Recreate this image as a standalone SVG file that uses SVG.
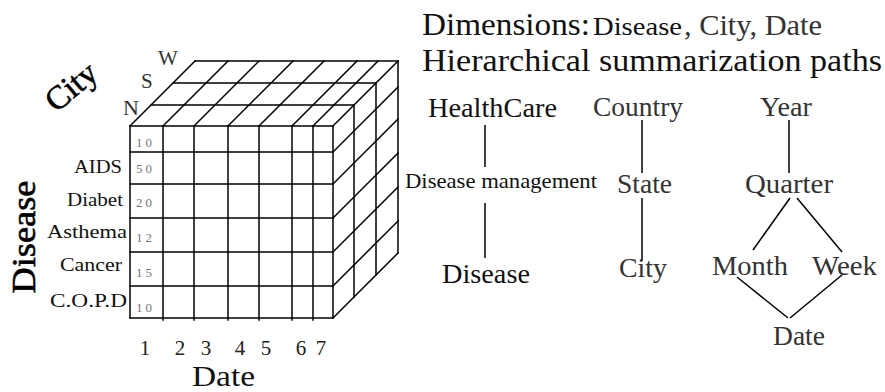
<svg xmlns="http://www.w3.org/2000/svg" width="885" height="392" viewBox="0 0 885 392">
<style>
  text { font-family: 'Liberation Serif', 'Times New Roman', serif; fill: #111; }
  .grid line { stroke: #000; stroke-width: 1.5; stroke-linecap: square; }
  .conn line { stroke: #000; stroke-width: 1.5; }
  .lbl { font-size: 19px; }
  .num { font-size: 13px; fill: #777; }
  .big { font-size: 28px; }
  .gray { fill: #333; }
  .axis { font-size: 21px; fill: #222; }
  .heavy { fill: #000; stroke: #000; stroke-width: 0.6; }
</style>
<rect width="885" height="392" fill="#fff"/>

<g id="cube" class="grid">
  <line x1="130" y1="126" x2="130" y2="318"/>
  <line x1="163" y1="126" x2="163" y2="320"/>
  <line x1="194" y1="126" x2="194" y2="320"/>
  <line x1="228" y1="126" x2="228" y2="320"/>
  <line x1="259" y1="126" x2="259" y2="320"/>
  <line x1="292" y1="126" x2="292" y2="320"/>
  <line x1="313" y1="126" x2="313" y2="320"/>
  <line x1="333" y1="126" x2="333" y2="318"/>
  <line x1="130" y1="126" x2="333" y2="126"/>
  <line x1="130" y1="152" x2="333" y2="152"/>
  <line x1="130" y1="184" x2="333" y2="184"/>
  <line x1="130" y1="218" x2="333" y2="218"/>
  <line x1="130" y1="252" x2="333" y2="252"/>
  <line x1="130" y1="286" x2="333" y2="286"/>
  <line x1="130" y1="318" x2="333" y2="318"/>
  <line x1="151" y1="105" x2="354" y2="105"/>
  <line x1="173" y1="83" x2="376" y2="83"/>
  <line x1="195" y1="61" x2="398" y2="61"/>
  <line x1="130" y1="126" x2="195" y2="61"/>
  <line x1="163" y1="126" x2="228" y2="61"/>
  <line x1="194" y1="126" x2="259" y2="61"/>
  <line x1="228" y1="126" x2="293" y2="61"/>
  <line x1="259" y1="126" x2="324" y2="61"/>
  <line x1="292" y1="126" x2="357" y2="61"/>
  <line x1="313" y1="126" x2="378" y2="61"/>
  <line x1="333" y1="126" x2="398" y2="61"/>
  <line x1="354" y1="105" x2="354" y2="297"/>
  <line x1="376" y1="83" x2="376" y2="275"/>
  <line x1="398" y1="61" x2="398" y2="253"/>
  <line x1="333" y1="152" x2="398" y2="87"/>
  <line x1="333" y1="184" x2="398" y2="119"/>
  <line x1="333" y1="218" x2="398" y2="153"/>
  <line x1="333" y1="252" x2="398" y2="187"/>
  <line x1="333" y1="286" x2="398" y2="221"/>
  <line x1="333" y1="318" x2="398" y2="253"/>
</g>

<g id="cell-values">
  <text class="num" x="136" y="147" textLength="16" lengthAdjust="spacing">10</text>
  <text class="num" x="136" y="173" textLength="16" lengthAdjust="spacing">50</text>
  <text class="num" x="136" y="207" textLength="16" lengthAdjust="spacing">20</text>
  <text class="num" x="136" y="242" textLength="16" lengthAdjust="spacing">12</text>
  <text class="num" x="136" y="277" textLength="16" lengthAdjust="spacing">15</text>
  <text class="num" x="136" y="312" textLength="16" lengthAdjust="spacing">10</text>
</g>

<g id="disease-axis">
  <text class="lbl" x="74" y="173" textLength="48" lengthAdjust="spacingAndGlyphs">AIDS</text>
  <text class="lbl" x="67" y="206" textLength="56" lengthAdjust="spacingAndGlyphs">Diabet</text>
  <text class="lbl" x="47" y="238" textLength="80" lengthAdjust="spacingAndGlyphs">Asthema</text>
  <text class="lbl" x="60" y="271" textLength="62" lengthAdjust="spacingAndGlyphs">Cancer</text>
  <text class="lbl" x="50" y="307" textLength="77" lengthAdjust="spacingAndGlyphs">C.O.P.D</text>
  <text class="heavy" transform="translate(35,237) rotate(-90)" x="0" y="0" text-anchor="middle" font-size="34" textLength="113" lengthAdjust="spacingAndGlyphs">Disease</text>
</g>

<g id="city-axis">
  <text class="heavy" transform="translate(78,95) rotate(-40)" x="0" y="0" text-anchor="middle" font-size="33">City</text>
  <text class="gray" x="123" y="115" font-size="22">N</text>
  <text class="gray" x="141" y="88" font-size="21">S</text>
  <text class="gray" x="158" y="65" font-size="21">W</text>
</g>

<g id="date-axis">
  <text class="axis" x="145" y="355" text-anchor="middle">1</text>
  <text class="axis" x="180" y="355" text-anchor="middle">2</text>
  <text class="axis" x="206" y="355" text-anchor="middle">3</text>
  <text class="axis" x="240" y="355" text-anchor="middle">4</text>
  <text class="axis" x="266" y="355" text-anchor="middle">5</text>
  <text class="axis" x="301" y="355" text-anchor="middle">6</text>
  <text class="axis" x="321" y="355" text-anchor="middle">7</text>
  <text x="192" y="386" font-size="30" textLength="63" lengthAdjust="spacingAndGlyphs">Date</text>
</g>

<g id="title">
  <text x="422" y="35" font-size="32" textLength="168" lengthAdjust="spacingAndGlyphs">Dimensions:</text>
  <text x="593" y="35" font-size="26" textLength="89" lengthAdjust="spacingAndGlyphs">Disease</text>
  <text class="gray" x="684" y="35" font-size="30" textLength="138" lengthAdjust="spacingAndGlyphs">, City, Date</text>
  <text x="422" y="71" font-size="32" textLength="460" lengthAdjust="spacingAndGlyphs">Hierarchical summarization paths</text>
</g>

<g id="conn" class="conn">
  <line x1="485" y1="125" x2="485" y2="167"/>
  <line x1="485" y1="203" x2="485" y2="258"/>
  <line x1="642" y1="120" x2="642" y2="173"/>
  <line x1="642" y1="198" x2="642" y2="260"/>
  <line x1="789" y1="120" x2="789" y2="173"/>
  <line x1="790" y1="198" x2="753" y2="250"/>
  <line x1="797" y1="198" x2="842" y2="252"/>
  <line x1="737" y1="277" x2="788" y2="318"/>
  <line x1="842" y1="275" x2="790" y2="318"/>
</g>

<g id="n-healthcare"><text class="big" x="428" y="117" textLength="129" lengthAdjust="spacingAndGlyphs">HealthCare</text></g>
<g id="n-disease-management"><text x="405" y="188" font-size="22" textLength="192" lengthAdjust="spacingAndGlyphs">Disease management</text></g>
<g id="n-disease"><text class="big" x="442" y="283" textLength="88" lengthAdjust="spacingAndGlyphs">Disease</text></g>
<g id="n-country"><text class="big gray" x="593" y="116" textLength="90" lengthAdjust="spacingAndGlyphs">Country</text></g>
<g id="n-state"><text class="big gray" x="617" y="193" textLength="55" lengthAdjust="spacingAndGlyphs">State</text></g>
<g id="n-city"><text class="big gray" x="619" y="277" textLength="48" lengthAdjust="spacingAndGlyphs">City</text></g>
<g id="n-year"><text class="big gray" x="760" y="116" textLength="52" lengthAdjust="spacingAndGlyphs">Year</text></g>
<g id="n-quarter"><text class="big gray" x="745" y="193" textLength="88" lengthAdjust="spacingAndGlyphs">Quarter</text></g>
<g id="n-month"><text class="big gray" x="712" y="275" textLength="76" lengthAdjust="spacingAndGlyphs">Month</text></g>
<g id="n-week"><text class="big gray" x="812" y="275" textLength="65" lengthAdjust="spacingAndGlyphs">Week</text></g>
<g id="n-date"><text class="big gray" x="773" y="345" textLength="52" lengthAdjust="spacingAndGlyphs">Date</text></g>
</svg>
